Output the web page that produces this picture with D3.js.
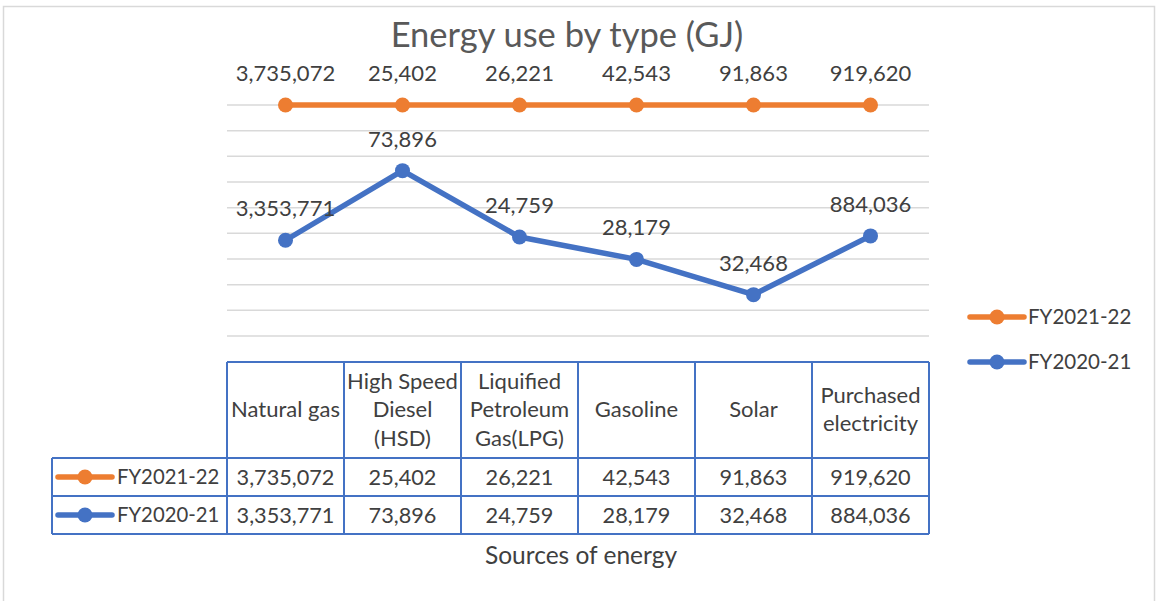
<!DOCTYPE html>
<html>
<head>
<meta charset="utf-8">
<script src="https://cdn.jsdelivr.net/npm/d3@7"></script>
<style>
  body { margin: 0; background: #fff; }
  text { font-family: Lato, "Open Sans", sans-serif; }
</style>
</head>
<body>
<div class="chart"></div>
<script>
const categories = ['Natural gas', 'High Speed Diesel (HSD)', 'Liquified Petroleum Gas(LPG)', 'Gasoline', 'Solar', 'Purchased electricity'];
const headerLines = [['Natural gas'], ['High Speed', 'Diesel', '(HSD)'], ['Liquified', 'Petroleum', 'Gas(LPG)'], ['Gasoline'], ['Solar'], ['Purchased', 'electricity']];
const fy2122 = [3735072, 25402, 26221, 42543, 91863, 919620];
const fy2021 = [3353771, 73896, 24759, 28179, 32468, 884036];
const seriesNames = ['FY2021-22', 'FY2020-21'];
const seriesColors = ['#ED7D31', '#4472C4'];

const width = 1158;
const height = 601;
const fmt = d3.format(',');

const svg = d3.select('.chart')
  .append('svg')
    .attr('width', width)
    .attr('height', height);

// chart frame
svg.append('rect')
  .attr('x', 3.5).attr('y', 6.5)
  .attr('width', 1151).attr('height', 640)
  .attr('fill', 'none')
  .attr('stroke', '#d9d9d9')
  .attr('stroke-width', 1.5);

svg.append('text')
  .attr('x', 567)
  .attr('y', 47)
  .attr('text-anchor', 'middle')
  .attr('font-size', '34.5px')
  .attr('fill', '#595959')
  .text('Energy use by type (GJ)');

// 100% stacked line: bottom series FY2020-21, top FY2021-22
const rows = categories.map((c, i) => ({cat: c, 'FY2020-21': fy2021[i], 'FY2021-22': fy2122[i]}));
const stacked = d3.stack()
  .keys(['FY2020-21', 'FY2021-22'])
  .offset(d3.stackOffsetExpand)(rows);

const x = d3.scaleBand()
  .domain(categories)
  .range([227, 929]);

const y = d3.scaleLinear()
  .domain([0, 1])
  .range([361.7, 105]);

svg.append('g')
  .selectAll('line')
  .data(y.ticks(10).filter(t => t > 0))
  .enter()
  .append('line')
    .attr('x1', 227)
    .attr('x2', 929)
    .attr('y1', d => y(d))
    .attr('y2', d => y(d))
    .attr('stroke', '#d9d9d9')
    .attr('stroke-width', 1.5);

const cx = c => x(c) + x.bandwidth() / 2;

const seriesData = [
  {name: 'FY2020-21', color: seriesColors[1], values: fy2021, pts: stacked[0]},
  {name: 'FY2021-22', color: seriesColors[0], values: fy2122, pts: stacked[1]}
];

const line = d3.line()
  .x(d => cx(d.data.cat))
  .y(d => y(d[1]));

seriesData.forEach(s => {
  svg.append('path')
    .datum(s.pts)
    .attr('d', line)
    .attr('fill', 'none')
    .attr('stroke', s.color)
    .attr('stroke-width', 5.5)
    .attr('stroke-linejoin', 'round');

  svg.append('g')
    .selectAll('circle')
    .data(s.pts)
    .enter()
    .append('circle')
      .attr('cx', d => cx(d.data.cat))
      .attr('cy', d => y(d[1]))
      .attr('r', 7.5)
      .attr('fill', s.color);

  svg.append('g')
    .selectAll('text')
    .data(s.pts)
    .enter()
    .append('text')
      .attr('x', d => cx(d.data.cat))
      .attr('y', d => y(d[1]) - 24)
      .attr('text-anchor', 'middle')
      .attr('font-size', '22px')
      .attr('fill', '#404040')
      .text((d, i) => fmt(s.values[i]));
});

// data table
const tableTop = 362;
const rowY = [362, 458, 496, 534];
const blue = '#4472C4';
const table = svg.append('g')
  .attr('stroke', blue)
  .attr('stroke-width', 2)
  .attr('fill', 'none');

// horizontal lines
table.append('line').attr('x1', 227).attr('x2', 929).attr('y1', rowY[0]).attr('y2', rowY[0]);
rowY.slice(1).forEach(yy => {
  table.append('line').attr('x1', 52).attr('x2', 929).attr('y1', yy).attr('y2', yy);
});
// vertical lines
const colEdges = categories.map(c => x(c)).concat([x.range()[1]]);
colEdges.forEach(xx => {
  table.append('line').attr('x1', xx).attr('x2', xx).attr('y1', tableTop).attr('y2', rowY[3]);
});
table.append('line').attr('x1', 52).attr('x2', 52).attr('y1', rowY[1]).attr('y2', rowY[3]);

// header labels
svg.append('g')
  .selectAll('text')
  .data(headerLines)
  .enter()
  .append('text')
    .attr('text-anchor', 'middle')
    .attr('font-size', '22px')
    .attr('fill', '#404040')
    .each(function(lines, i) {
      const node = d3.select(this);
      const lh = 28.5;
      const startY = 409 + 8 - (lines.length - 1) * lh / 2;
      lines.forEach((l, j) => {
        node.append('tspan')
          .attr('x', cx(categories[i]))
          .attr('y', startY + j * lh)
          .text(l);
      });
    });

// value rows
const tableRows = [
  {name: seriesNames[0], color: seriesColors[0], values: fy2122, mid: 477},
  {name: seriesNames[1], color: seriesColors[1], values: fy2021, mid: 515}
];

function legendKey(g, x0, yy, color) {
  g.append('line')
    .attr('x1', x0).attr('x2', x0 + 54)
    .attr('y1', yy).attr('y2', yy)
    .attr('stroke', color)
    .attr('stroke-width', 5.5)
    .attr('stroke-linecap', 'round');
  g.append('circle')
    .attr('cx', x0 + 27).attr('cy', yy)
    .attr('r', 7.5)
    .attr('fill', color);
}

tableRows.forEach(r => {
  const g = svg.append('g');
  legendKey(g, 58, r.mid, r.color);
  g.append('text')
    .attr('x', 117)
    .attr('y', r.mid + 7)
    .attr('font-size', '20.3px')
    .attr('fill', '#404040')
    .text(r.name);
  g.selectAll('text.val')
    .data(r.values)
    .enter()
    .append('text')
      .attr('class', 'val')
      .attr('x', (d, i) => cx(categories[i]))
      .attr('y', r.mid + 8)
      .attr('text-anchor', 'middle')
      .attr('font-size', '21.7px')
      .attr('fill', '#404040')
      .text(d => fmt(d));
});

// right legend
const legendY = [317, 362];
seriesNames.forEach((n, i) => {
  const g = svg.append('g');
  legendKey(g, 970, legendY[i], seriesColors[i]);
  g.append('text')
    .attr('x', 1028)
    .attr('y', legendY[i] + 7)
    .attr('font-size', '20.5px')
    .attr('fill', '#404040')
    .text(n);
});

svg.append('text')
  .attr('x', 581)
  .attr('y', 564)
  .attr('text-anchor', 'middle')
  .attr('font-size', '24.5px')
  .attr('fill', '#404040')
  .text('Sources of energy');
</script>
</body>
</html>
